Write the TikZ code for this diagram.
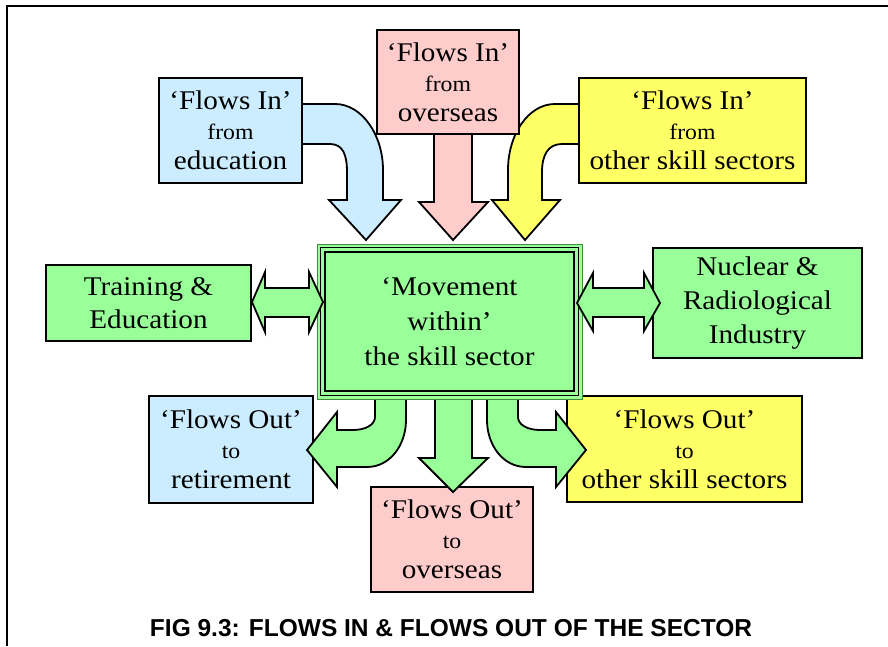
\documentclass[tikz,border=0pt]{standalone}
\usepackage{fontspec}
\setmainfont{Liberation Serif}[FakeStretch=1.08]
\newfontfamily\capfont{Liberation Sans}
\definecolor{cblue}{RGB}{204,236,255}
\definecolor{cpink}{RGB}{255,204,204}
\definecolor{cyellow}{RGB}{255,255,102}
\definecolor{cgreen}{RGB}{153,255,153}
\definecolor{cdkgreen}{RGB}{60,140,60}
\newcommand\smw[1]{{\fontsize{22}{30}\selectfont #1}}
\begin{document}
\begin{tikzpicture}[x=1pt,y=-1pt,
  box/.style={draw=black, line width=1.3pt, inner sep=0pt, align=center,
              font=\fontsize{27}{30}\selectfont},
  blockarrow/.style={draw=black, line width=1.8pt, line join=miter},
  ]
\useasboundingbox (0,0) rectangle (888,646);

% ---- flows in: block arrows from the top boxes
\draw[blockarrow, fill=cblue] (290,104) -- (335,104)
  .. controls (362,104) and (383,135) .. (383,170) -- (383,200) -- (401,200)
  -- (366,240) -- (329,200) -- (347,200) -- (347,172)
  .. controls (347,155) and (343,144) .. (330,144) -- (290,144) -- cycle;
\draw[blockarrow, fill=cpink] (434,120) -- (434,202) -- (419,202) -- (453,240)
  -- (488,202) -- (472,202) -- (472,120) -- cycle;
\draw[blockarrow, fill=cyellow] (590,104) -- (555,104)
  .. controls (528,104) and (508,135) .. (508,170) -- (508,200) -- (492,200)
  -- (525,240) -- (560,200) -- (542,200) -- (542,172)
  .. controls (542,155) and (548,144) .. (562,144) -- (590,144) -- cycle;

% ---- top boxes
\node[box, fill=cblue, minimum width=143, minimum height=105] (edu) at (230.5,130.5)
  {‘Flows In’\\\smw{from}\\education};
\node[box, fill=cpink, minimum width=142, minimum height=104] (ovin) at (448,82)
  {‘Flows In’\\\smw{from}\\overseas};
\node[box, fill=cyellow, minimum width=227, minimum height=105] (othin) at (692.5,130.5)
  {‘Flows In’\\\smw{from}\\other skill sectors};

% ---- bottom boxes
\node[box, fill=cblue, minimum width=164, minimum height=107] (ret) at (231,449.5)
  {‘Flows Out’\\\smw{to}\\retirement};
\node[box, fill=cpink, minimum width=162, minimum height=105] (ovout) at (452,539.5)
  {‘Flows Out’\\\smw{to}\\overseas};
\node[box, fill=cyellow, minimum width=235, minimum height=106] (othout) at (684.5,449)
  {‘Flows Out’\\\smw{to}\\other skill sectors};

% ---- side boxes
\node[box, fill=cgreen, minimum width=205, minimum height=76,
      font=\fontsize{27}{33}\selectfont] (train) at (148.5,303)
  {Training \&\\Education};
\node[box, fill=cgreen, minimum width=209, minimum height=110,
      font=\fontsize{27}{34}\selectfont] (nuc) at (757.5,303)
  {Nuclear \&\\Radiological\\Industry};

% ---- flows out: block arrows towards the bottom boxes
\draw[blockarrow, fill=cgreen] (375,390) -- (375,417)
  .. controls (375,425) and (365,430) .. (353,430) -- (337,430) -- (337,412)
  -- (307,450) -- (337,487) -- (337,467) -- (367,467)
  .. controls (390,467) and (406,445) .. (406,420) -- (406,390) -- cycle;
\draw[blockarrow, fill=cgreen] (435,390) -- (435,458) -- (419,458) -- (453,492)
  -- (488,458) -- (472,458) -- (472,390) -- cycle;
\draw[blockarrow, fill=cgreen] (518,390) -- (518,417)
  .. controls (518,425) and (528,430) .. (540,430) -- (556,430) -- (556,412)
  -- (586,450) -- (556,487) -- (556,467) -- (526,467)
  .. controls (503,467) and (487,445) .. (487,420) -- (487,390) -- cycle;

% ---- central box with its double frame
\node[draw=cdkgreen, line width=0.8pt, fill=cgreen, minimum width=265, minimum height=155,
      inner sep=0pt, align=center, font=\fontsize{27}{35}\selectfont]
  (mid) at (449.5,321.5) {‘Movement\\within’\\the skill sector};
\draw[line width=1pt] ([shift={(4,4)}]mid.north west) rectangle ([shift={(-4,-4)}]mid.south east);
\draw[line width=2.6pt] ([shift={(8.5,8.5)}]mid.north west) rectangle ([shift={(-8.5,-8.5)}]mid.south east);

% ---- two-way exchanges with the side boxes
\draw[blockarrow, fill=cgreen] (252,302) -- (265,272) -- (265,288) -- (309,288)
  -- (309,272) -- (323,302) -- (309,332) -- (309,317) -- (265,317) -- (265,332) -- cycle;
\draw[blockarrow, fill=cgreen] (577,303) -- (593,273) -- (593,288) -- (644,288)
  -- (644,273) -- (660,303) -- (644,331) -- (644,317) -- (593,317) -- (593,331) -- cycle;

% ---- frame and caption
\draw[line width=2pt] (7,646) -- (7,6) -- (888,6);
\node[font=\capfont\bfseries\fontsize{24.5}{28}\selectfont] (cap) at (451,628)
  {FIG 9.3: FLOWS IN \& FLOWS OUT OF THE SECTOR};
\end{tikzpicture}
\end{document}
